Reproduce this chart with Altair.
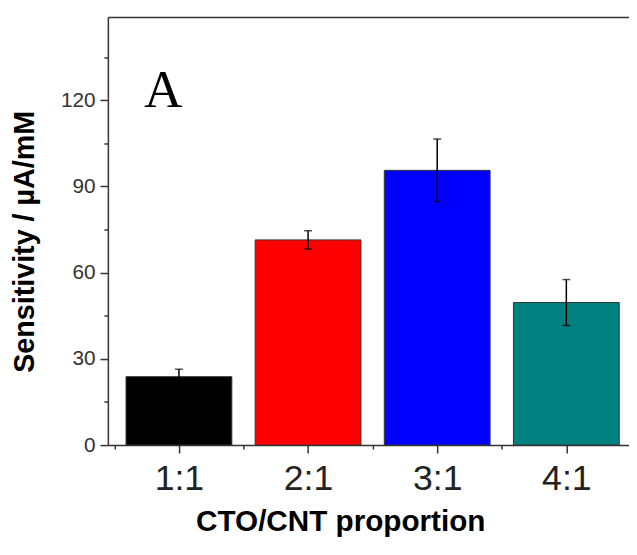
import altair as alt
import pandas as pd

categories = ["1:1", "2:1", "3:1", "4:1"]
positions = [1, 2, 3, 4]
values = [23.8, 71.4, 95.6, 49.6]
errors = [2.6, 3.2, 10.9, 8.0]
colors = ["#000000", "#FF0000", "#0000FF", "#008080"]
y_major = [0, 30, 60, 90, 120]
y_minor = [15, 45, 75, 105, 135]
x_minor = [0.5, 1.5, 2.5, 3.5]

df = pd.DataFrame({"cat": categories, "pos": positions, "value": values, "err": errors})
df["lo"] = df["value"] - df["err"]
df["hi"] = df["value"] + df["err"]

FONT = "Liberation Sans"
AX = "#333333"
xscale = alt.Scale(domain=[0.488, 4.447], nice=False, zero=False)
yscale = alt.Scale(domain=[0, 149], nice=False)
label_expr = "[" + ",".join("'%s'" % c for c in categories) + "][datum.value - 1]"

bars = alt.Chart(df).mark_bar(size=107, stroke="#333333", strokeWidth=1, clip=True).encode(
    x=alt.X("pos:Q", scale=xscale,
            axis=alt.Axis(orient="bottom", values=positions, labelExpr=label_expr,
                          tickSize=8, tickColor=AX, tickWidth=1.5, domainColor=AX, domainWidth=1.5,
                          labelFont=FONT, labelFontSize=36, labelColor="#222222",
                          labelBaseline="alphabetic", labelPadding=37, grid=False,
                          title="CTO/CNT proportion", titleFont=FONT, titleFontSize=30,
                          titleFontWeight="bold", titleColor="#000000",
                          titleX=235, titleY=86, titleBaseline="alphabetic", titleAlign="center")),
    y=alt.Y("value:Q", scale=yscale,
            axis=alt.Axis(orient="left", values=y_major, tickSize=8, tickColor=AX, tickWidth=1.5,
                          domainColor=AX, domainWidth=1.5, labelFont=FONT, labelFontSize=21,
                          labelColor="#333333", labelPadding=5, grid=False,
                          title="Sensitivity / µA/mM", titleFont=FONT, titleFontSize=29,
                          titleFontWeight="bold", titleColor="#000000",
                          titleX=-84, titleY=227, titleAngle=270, titleBaseline="middle",
                          titleAlign="center")),
    color=alt.Color("cat:N", scale=alt.Scale(domain=categories, range=colors), legend=None),
)

err_rule = alt.Chart(df).mark_rule(color="#000000", strokeWidth=1.5).encode(
    x=alt.X("pos:Q", scale=xscale,
            axis=alt.Axis(orient="bottom", values=x_minor, tickSize=4, tickColor=AX, tickWidth=1.5,
                          labels=False, domain=False, grid=False, title=None)),
    y=alt.Y("lo:Q", scale=yscale,
            axis=alt.Axis(orient="left", values=y_minor, tickSize=4, tickColor=AX, tickWidth=1.5,
                          labels=False, domain=False, grid=False, title=None)),
    y2="hi:Q",
)

cap_hi = alt.Chart(df).mark_tick(color="#000000", orient="horizontal", size=8, thickness=1.5).encode(
    x=alt.X("pos:Q", scale=xscale,
            axis=alt.Axis(orient="top", ticks=False, labels=False, domain=True, domainColor=AX,
                          domainWidth=1.5, grid=False, title=None)),
    y=alt.Y("hi:Q", scale=yscale, axis=None),
)
cap_lo = alt.Chart(df).mark_tick(color="#000000", orient="horizontal", size=8, thickness=1.5).encode(
    x=alt.X("pos:Q", scale=xscale, axis=None),
    y=alt.Y("lo:Q", scale=yscale, axis=None),
)

panel = alt.Chart(pd.DataFrame({"t": ["A"]})).mark_text(
    font="Liberation Serif", fontSize=54, color="#000000", align="center", baseline="alphabetic"
).encode(text="t:N", x=alt.value(56), y=alt.value(91))

chart = alt.layer(bars, err_rule, cap_hi, cap_lo, panel).resolve_axis(
    x="independent", y="independent"
).properties(
    width=527, height=433,
    autosize=alt.AutoSizeParams(type="none"),
    padding={"left": 101, "top": 6, "right": 0, "bottom": 94},
).configure_view(stroke=None)

chart.save("out.html", embed_options={"renderer": "svg", "actions": False})
